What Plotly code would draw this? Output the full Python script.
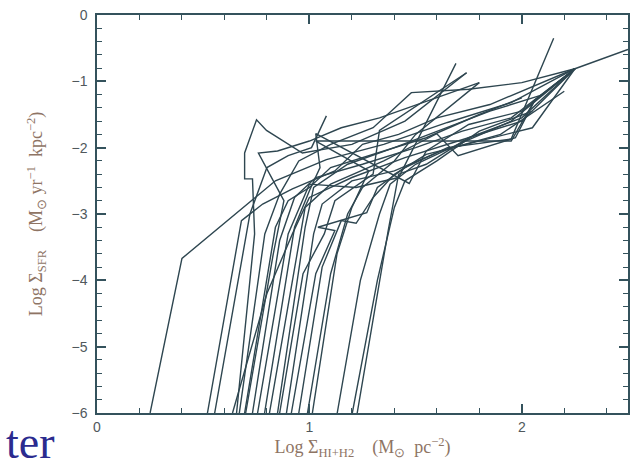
import plotly.graph_objects as go

# Radial tracks: log gas surface density (x) vs log SFR surface density (y)
track_x = [
    [0.25, 0.40, 0.84, 1.08, 1.35, 1.65, 1.95, 2.25, 2.50],
    [0.52, 0.68, 0.78, 0.92, 1.12, 1.25, 1.42, 1.60, 1.85, 2.25],
    [0.554, 0.72, 0.80, 0.90, 1.01, 1.08],
    [0.638, 0.80, 0.92, 1.00, 1.20, 1.45, 1.70, 2.00, 2.25],
    [0.657, 0.742, 0.732, 0.695, 0.695, 0.751, 0.798, 0.967, 1.20, 1.45, 1.74],
    [0.67, 0.79, 0.86, 0.95, 1.10, 1.30, 1.48, 1.75, 2.00, 2.25],
    [0.695, 0.84, 0.90, 1.00, 1.10, 1.30, 1.55, 1.80, 2.00],
    [0.70, 0.83, 0.88, 0.76, 0.85, 1.00, 1.15, 1.33, 1.80],
    [0.732, 0.86, 0.93, 1.03, 1.25, 1.50, 1.72, 1.95, 2.25],
    [0.756, 0.90, 1.00, 1.22, 1.42, 1.69],
    [0.789, 0.93, 1.00, 1.05, 1.03, 1.47, 1.55, 1.75, 2.00, 2.25],
    [0.812, 0.95, 0.98, 1.10, 1.35, 1.60, 1.70, 1.97, 2.06, 2.25],
    [0.850, 0.98, 1.02, 1.18, 1.40, 1.65, 1.85, 2.10],
    [0.86, 0.97, 1.07, 1.12, 1.30, 1.33, 1.74],
    [0.892, 1.02, 1.06, 1.20, 1.40, 1.62, 1.90, 2.20],
    [0.915, 1.03, 1.12, 1.04, 1.27, 1.32, 1.45, 1.65, 1.95, 2.15],
    [0.95, 1.06, 1.15, 1.22, 1.30, 1.40, 1.55, 1.80, 2.05, 2.25],
    [0.991, 1.10, 1.18, 1.25, 1.40, 1.50, 1.80],
    [1.014, 1.13, 1.20, 1.28, 1.03, 1.95, 2.06, 2.25],
    [1.131, 1.24, 1.33, 1.38, 1.50, 1.70, 1.95, 2.25],
    [1.202, 1.32, 1.40, 1.45, 1.60, 1.80, 2.05],
    [1.225, 1.371, 1.42, 1.55, 1.75, 2.00, 2.25],
]
track_y = [
    [-6, -3.67, -2.50, -2.18, -1.95, -1.62, -1.32, -0.81, -0.52],
    [-6, -3.10, -2.85, -2.62, -2.35, -1.95, -1.80, -1.55, -1.35, -0.81],
    [-6, -3.00, -2.30, -2.12, -2.00, -1.52],
    [-6, -4.20, -3.30, -2.75, -2.45, -2.15, -1.90, -1.60, -0.81],
    [-6, -3.30, -2.47, -2.47, -2.08, -1.58, -1.74, -2.08, -1.95, -1.60, -0.87],
    [-6, -3.30, -2.70, -2.20, -1.95, -1.70, -1.17, -1.12, -1.02, -0.81],
    [-6, -3.20, -2.80, -2.60, -2.30, -2.10, -1.85, -1.50, -1.25],
    [-6, -3.60, -2.80, -2.08, -2.05, -1.90, -1.70, -1.55, -1.02],
    [-6, -3.40, -2.75, -2.45, -2.25, -2.00, -1.75, -1.55, -0.81],
    [-6, -3.30, -2.55, -2.60, -2.45, -0.73],
    [-6, -3.20, -2.65, -2.30, -1.79, -2.54, -2.05, -1.65, -1.45, -0.81],
    [-6, -3.40, -2.90, -2.55, -2.20, -1.79, -2.12, -1.85, -1.29, -0.81],
    [-6, -3.20, -2.60, -2.25, -2.00, -1.70, -1.45, -1.20],
    [-6, -3.90, -3.30, -2.80, -2.40, -1.74, -0.87],
    [-6, -3.30, -2.85, -2.50, -2.35, -2.05, -1.80, -1.15],
    [-6, -3.90, -3.25, -3.20, -2.98, -2.60, -2.30, -2.00, -1.87, -0.35],
    [-6, -3.80, -3.10, -3.14, -2.75, -2.40, -2.10, -1.90, -1.70, -0.81],
    [-6, -3.90, -3.00, -2.60, -2.20, -1.80, -1.02],
    [-6, -3.60, -2.90, -2.35, -1.90, -1.90, -1.29, -0.81],
    [-6, -4.00, -3.00, -2.55, -2.25, -1.95, -1.60, -0.81],
    [-6, -4.00, -2.90, -2.50, -2.20, -1.75, -1.45],
    [-6, -3.25, -2.40, -2.25, -1.85, -1.55, -0.81],
]

x_range = [0, 2.5]
y_range = [-6, 0]
x_ticks = [0, 1, 2]
y_ticks = [0, -1, -2, -3, -4, -5, -6]

line_col = "#2e4650"
frame_col = "#34525c"
label_col = "#50585c"
title_col = "#8e7464"

fig = go.Figure()
for xs, ys in zip(track_x, track_y):
    fig.add_trace(go.Scatter(x=xs, y=ys, mode="lines",
                             line=dict(color=line_col, width=1.4),
                             showlegend=False, hoverinfo="skip"))

# invisible marker on the top/right axes so their ticks get drawn
fig.add_trace(go.Scatter(x=[x_range[0]], y=[y_range[0]], xaxis="x2", yaxis="y2",
                         mode="markers", marker=dict(opacity=0, size=1),
                         showlegend=False, hoverinfo="skip"))

tick_style = dict(ticks="inside", ticklen=9, tickwidth=1.5, tickcolor=frame_col)
minor_style = dict(dtick=0.2, ticks="inside", ticklen=5, tickcolor=frame_col, tickwidth=1.3)
label_font = dict(family="Liberation Sans", size=14, color=label_col)
title_font = dict(family="Liberation Serif", size=18, color=title_col)

fig.update_layout(
    width=637, height=464,
    margin=dict(l=97, r=7, t=14, b=51),
    paper_bgcolor="white", plot_bgcolor="white",
    showlegend=False,
    xaxis=dict(
        range=x_range, tickvals=x_ticks, ticktext=[str(v) for v in x_ticks],
        showgrid=False, zeroline=False, showline=True, mirror=True,
        linecolor=frame_col, linewidth=1.5, minor=minor_style,
        tickfont=label_font, **tick_style,
        title=dict(text="Log Σ<sub>HI+H2</sub>    (M<sub>⊙</sub>  pc<sup>−2</sup>)",
                   font=title_font, standoff=6),
    ),
    yaxis=dict(
        range=y_range, tickvals=y_ticks,
        ticktext=["0" if v == 0 else "−%d" % -v for v in y_ticks],
        showgrid=False, zeroline=False, showline=True, mirror=True,
        linecolor=frame_col, linewidth=1.5, minor=minor_style,
        tickfont=label_font, ticklabelstandoff=5, **tick_style,
        title=dict(text="Log Σ<sub>SFR</sub>    (M<sub>⊙</sub> yr<sup>−1</sup>  kpc<sup>−2</sup>)",
                   font=title_font, standoff=24),
    ),
    xaxis2=dict(
        range=x_range, overlaying="x", side="top", anchor="y2",
        tickvals=x_ticks, showticklabels=False, showgrid=False, zeroline=False,
        showline=False, minor=minor_style, **tick_style,
    ),
    yaxis2=dict(
        range=y_range, overlaying="y", side="right", anchor="x2",
        tickvals=y_ticks, showticklabels=False, showgrid=False, zeroline=False,
        showline=False, minor=minor_style, **tick_style,
    ),
)

fig.add_annotation(text="ter", xref="paper", yref="paper", x=-0.175, y=-0.075,
                   xanchor="left", yanchor="middle", showarrow=False,
                   font=dict(family="Liberation Serif", size=46, color="#2b2b8f"))

fig.write_html("out.html")
